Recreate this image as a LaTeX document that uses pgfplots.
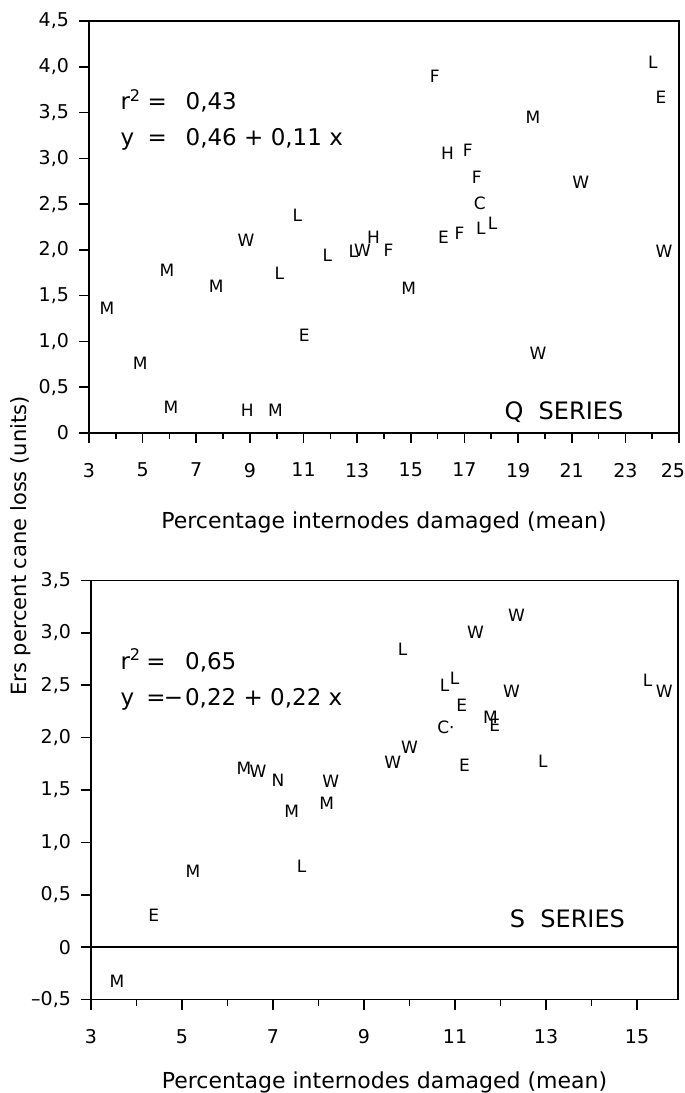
\documentclass[border=0pt]{standalone}
\usepackage{fontspec}
\setmainfont{DejaVu Sans}
\usepackage{pgfplots}
\pgfplotsset{compat=1.18}

\pgfplotsset{
  caneax/.style={
    scale only axis,
    axis line style={line width=0.9pt},
    every tick/.style={black, line width=0.8pt},
    tick align=outside,
    tick pos=left,
    major tick length=5pt, minor tick length=3pt,
    tick label style={font=\fontsize{9.5}{10}\selectfont},
    xticklabel shift=6.5pt,
    yticklabel shift=1.5pt,
    label style={font=\fontsize{11}{13}\selectfont},
  },
  letters/.style={
    only marks, mark=none,
    nodes near coords, point meta=explicit symbolic,
    every node near coord/.append style={anchor=center, inner sep=0pt,
      font=\fontsize{8.5}{9}\selectfont},
  },
}
\tikzset{eqn/.style={anchor=base west, inner sep=0pt, font=\fontsize{11.5}{13}\selectfont}}

\begin{document}
\begin{tikzpicture}
\useasboundingbox (0,0) rectangle (342.5pt,-546.5pt);

% Q series
\begin{axis}[
  caneax,
  at={(44.5pt,-216.5pt)}, anchor=south west,
  width=295pt, height=206pt,
  xmin=3, xmax=25, ymin=0, ymax=4.5,
  xtick={3,5,...,25}, minor xtick={4,6,...,24},
  xticklabels={3,5,7,9,11,13,15,17,19,21,23,\hspace*{-6pt}25},
  ytick={0,0.5,...,4.5},
  yticklabels={0,{0,5},{1,0},{1,5},{2,0},{2,5},{3,0},{3,5},{4,0},{4,5}},
  xlabel={Percentage internodes damaged (mean)},
  xlabel style={at={(axis description cs:0.5,-0.218)}, anchor=center},
]
\addplot[letters] table[meta=l] {
x y l
24.03 4.05 L
24.33 3.67 E
15.89 3.90 F
19.55 3.45 M
16.37 3.06 H
17.12 3.09 F
17.46 2.79 F
17.57 2.51 C
21.34 2.74 W
17.61 2.24 L
18.05 2.29 L
16.22 2.14 E
16.82 2.18 F
12.86 1.98 L
13.20 2.00 W
13.61 2.14 H
14.17 2.00 F
14.92 1.58 M
19.74 0.87 W
24.44 1.98 W
8.86 2.11 W
11.89 1.94 L
5.91 1.78 M
7.74 1.60 M
10.10 1.74 L
3.67 1.36 M
11.03 1.07 E
4.91 0.76 M
6.06 0.28 M
8.90 0.25 H
9.95 0.25 M
10.77 2.38 L
};
\node[eqn] at (axis cs:4.16,3.53) {r\textsuperscript{2}};
\node[eqn, anchor=base] at (axis cs:5.55,3.53) {=};
\node[eqn] at (axis cs:6.59,3.53) {0,43};
\node[eqn] at (axis cs:4.16,3.14) {y};
\node[eqn, anchor=base] at (axis cs:5.55,3.14) {=};
\node[eqn] at (axis cs:6.59,3.14) {0,46 + 0,11 x};
\node[font=\fontsize{12}{14}\selectfont] at (axis cs:20.71,0.23) {Q\ \ SERIES};
\end{axis}

% S series
\begin{axis}[
  caneax,
  at={(45.5pt,-499.75pt)}, anchor=south west,
  width=293.5pt, height=209.5pt,
  xmin=3, xmax=15.9, ymin=-0.5, ymax=3.5,
  xtick={3,5,...,15}, minor xtick={4,6,...,14},
  xticklabels={3,5,7,9,11,13,15},
  ytick={-0.5,0,...,3.5},
  yticklabels={{–0,5},0,{0,5},{1,0},{1,5},{2,0},{2,5},{3,0},{3,5}},
  xlabel={Percentage internodes damaged (mean)},
  xlabel style={at={(axis description cs:0.5,-0.199)}, anchor=center},
]
\addplot[letters] table[meta=l] {
x y l
6.36 1.71 M
6.67 1.68 W
7.11 1.59 N
8.27 1.58 W
7.41 1.30 M
8.18 1.37 M
5.24 0.72 M
7.63 0.77 L
4.38 0.30 E
3.57 -0.33 M
12.35 3.17 W
11.45 3.01 W
9.85 2.84 L
10.77 2.50 L
10.99 2.57 L
11.15 2.31 E
12.24 2.44 W
11.78 2.19 M
11.87 2.12 E
10.80 2.10 C·
10.00 1.91 W
9.63 1.76 W
11.21 1.74 E
12.93 1.77 L
15.23 2.55 L
15.60 2.44 W
};
\draw[line width=0.9pt] (axis cs:3,0) -- (axis cs:15.9,0);
\node[eqn] at (axis cs:3.64,2.65) {r\textsuperscript{2}};
\node[eqn, anchor=base] at (axis cs:4.43,2.65) {=};
\node[eqn] at (axis cs:5.06,2.65) {0,65};
\node[eqn] at (axis cs:3.64,2.31) {y};
\node[eqn, anchor=base] at (axis cs:4.43,2.31) {=};
\node[eqn] at (axis cs:5.06,2.31) {\llap{\char"2212\kern1pt}0,22 + 0,22 x};
\node[font=\fontsize{12}{14}\selectfont] at (axis cs:13.47,0.27) {S\ \ SERIES};
\end{axis}

\node[rotate=90, font=\fontsize{10.5}{12}\selectfont] at (10.5pt,-273pt) {Ers percent cane loss (units)};
\end{tikzpicture}
\end{document}
